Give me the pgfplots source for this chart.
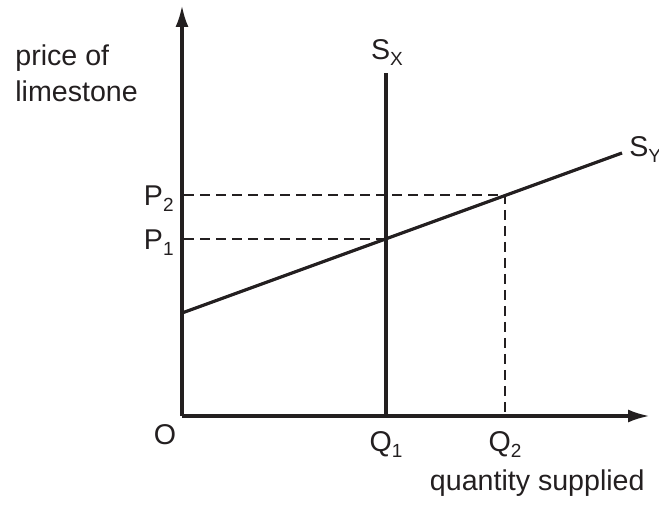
\documentclass[border=0pt]{standalone}
\usepackage{fontspec}
\setmainfont{Liberation Sans}
\usepackage{pgfplots}
\pgfplotsset{compat=1.18}
\usetikzlibrary{arrows.meta}
\definecolor{ink}{RGB}{35,31,32}
% subscript in the text font
\newcommand{\sub}[1]{\raisebox{-3pt}{\fontsize{9.5}{9.5}\selectfont #1}}
\tikzset{lbl/.style={font=\fontsize{14.3}{17}\selectfont, text=ink, inner sep=0pt}}
\begin{document}
\begin{tikzpicture}
\begin{axis}[
  width=329.5pt, height=252pt, scale only axis,
  xmin=0, xmax=659, ymin=0, ymax=504,
  hide axis, clip=false,
]
% axes
\addplot[ink, line width=1.7pt, mark=none, -{Latex[length=11pt,width=6.5pt]}] coordinates {(182,88) (182,499)};
\addplot[ink, line width=1.7pt, mark=none, -{Latex[length=11pt,width=6.5pt]}] coordinates {(182,88) (650,88)};
% guide lines
\addplot[ink, line width=0.65pt, mark=none, dash pattern=on 5pt off 3pt] coordinates {(184,265) (386,265)};
\addplot[ink, line width=0.65pt, mark=none, dash pattern=on 5pt off 3pt] coordinates {(184,309) (505,309) (505,88)};
% supply curves
\addplot[ink, line width=1.6pt, mark=none] coordinates {(386,88) (386,431)};
\addplot[ink, line width=1.6pt, mark=none] coordinates {(182,191) (622,351)};
% labels
\node[lbl, anchor=base west] at (axis cs:15,438) {price of};
\node[lbl, anchor=base west] at (axis cs:15,402) {limestone};
\node[lbl, anchor=base] at (axis cs:165,60) {O};
\node[lbl, anchor=base east] at (axis cs:174,298) {P\sub{2}};
\node[lbl, anchor=base east] at (axis cs:174,254) {P\sub{1}};
\node[lbl, anchor=base] at (axis cs:386,53) {Q\sub{1}};
\node[lbl, anchor=base] at (axis cs:505,53) {Q\sub{2}};
\node[lbl, anchor=base] at (axis cs:387,444) {S\sub{X}};
\node[lbl, anchor=base west] at (axis cs:629,347) {S\sub{Y}};
\node[lbl, anchor=base east] at (axis cs:645,14) {quantity supplied};
\end{axis}
\pgfresetboundingbox
\path[use as bounding box] (current axis.south west) rectangle (current axis.north east);
\end{tikzpicture}
\end{document}
